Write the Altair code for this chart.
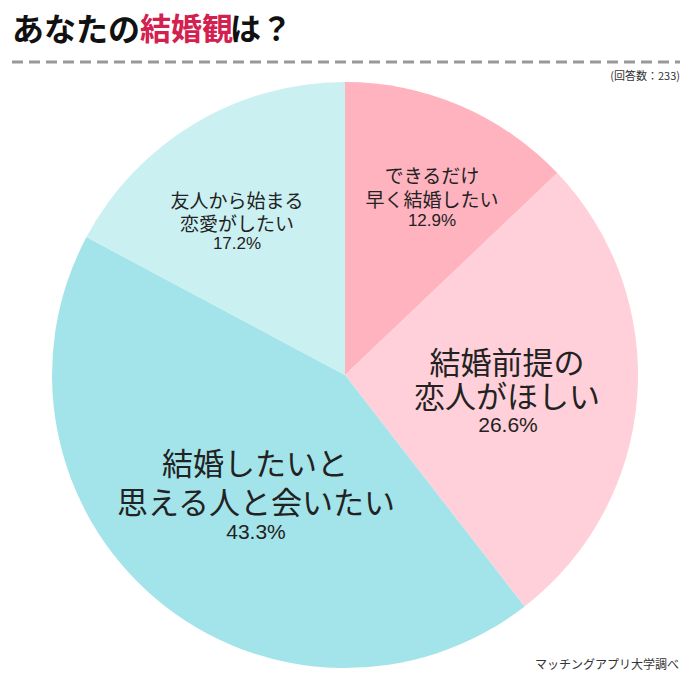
import pandas as pd
import altair as alt

# slice data, clockwise from 12 o'clock
answers = ['できるだけ早く結婚したい', '結婚前提の恋人がほしい',
           '結婚したいと思える人と会いたい', '友人から始まる恋愛がしたい']
shares = [12.9, 26.6, 43.3, 17.2]
slice_colors = ['#FFB3BF', '#FFD0D9', '#A3E4EA', '#CBF0F2']

title_parts = ['あなたの', '結婚観', 'は？']
note_text = '(回答数：233)'
source_text = 'マッチングアプリ大学調べ'

JP = 'Noto Sans CJK JP'
W, H = 674, 668
CX, CY, R = 337, 367, 293

pie_df = pd.DataFrame({'answer': answers, 'share': shares, 'idx': range(len(answers))})

pie = alt.Chart(pie_df).mark_arc(outerRadius=R, stroke=None).encode(
    theta=alt.Theta('share:Q', stack=True),
    order=alt.Order('idx:Q'),
    color=alt.Color('answer:N', scale=alt.Scale(domain=answers, range=slice_colors), legend=None),
    x=alt.value(CX),
    y=alt.value(CY),
)

one_row = pd.DataFrame({'k': [0]})


def label(text, x, y, size, color='#222222', font=JP, weight='normal', align='center'):
    return alt.Chart(one_row).mark_text(
        text=text, font=font, fontSize=size, fontWeight=weight,
        color=color, align=align, baseline='middle'
    ).encode(x=alt.value(x), y=alt.value(y))


layers = [pie]

# title
layers.append(label(title_parts[0], 4, 23, 32, '#111111', weight='bold', align='left'))
layers.append(label(title_parts[1], 132, 23, 31, '#D3214F', weight='bold', align='left'))
layers.append(label(title_parts[2], 222, 23, 31, '#111111', weight='bold', align='left'))

# dashed rule under the title
layers.append(alt.Chart(one_row).mark_rule(
    color='#999999', strokeWidth=3, strokeDash=[11, 6]
).encode(x=alt.value(4), x2=alt.value(672), y=alt.value(54)))

layers.append(label(note_text, 672, 69, 11, '#333333', align='right'))
layers.append(label(source_text, 671, 657, 12, '#333333', align='right'))

# slice labels
layers += [
    label('できるだけ', 424, 169, 19),
    label('早く結婚したい', 424, 193, 19),
    label(f'{shares[0]}%', 424, 213, 17, font='Liberation Sans'),
    label('結婚前提の', 499, 357, 31),
    label('恋人がほしい', 499, 391, 31),
    label(f'{shares[1]}%', 500, 418, 21, font='Liberation Sans'),
    label('結婚したいと', 247, 458, 31),
    label('思える人と会いたい', 248, 497, 31),
    label(f'{shares[2]}%', 248, 525, 21, font='Liberation Sans'),
    label('友人から始まる', 229, 194, 19),
    label('恋愛がしたい', 229, 217, 19),
    label(f'{shares[3]}%', 229, 236, 17, font='Liberation Sans'),
]

chart = alt.layer(*layers).properties(
    width=W, height=H, padding=0,
    autosize=alt.AutoSizeParams(type='none'),
    background='white'
).configure_view(stroke=None)

chart.save("out.html", embed_options={"renderer": "svg", "actions": False})
